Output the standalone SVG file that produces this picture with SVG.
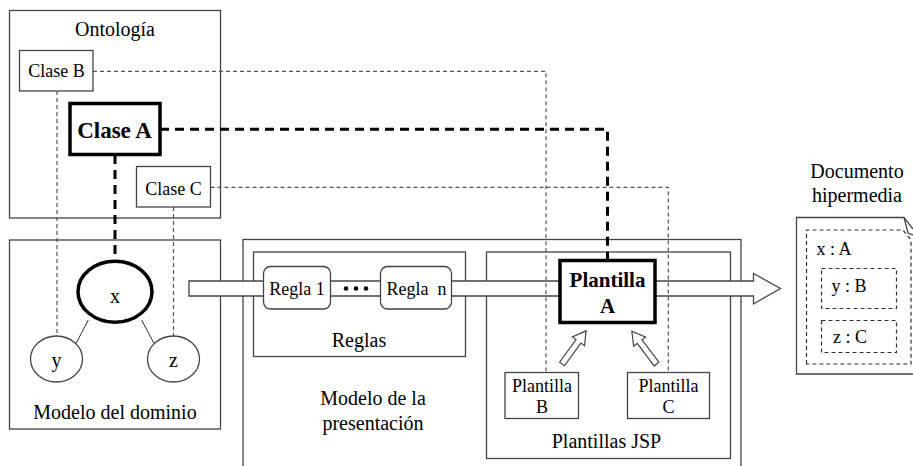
<svg xmlns="http://www.w3.org/2000/svg" width="913" height="466" viewBox="0 0 913 466">
<style>
text{font-family:'Liberation Serif','Times New Roman',serif;fill:#000}
.t20{font-size:20px}
.t18{font-size:18px}
.c{text-anchor:middle}
.box{fill:none;stroke:#444;stroke-width:1.3}
.wbox{fill:#fff;stroke:#444;stroke-width:1.3}
.thick{fill:#fff;stroke:#000;stroke-width:3.5}
.dash{fill:none;stroke:#555;stroke-width:1.2;stroke-dasharray:4 3}
.tdash{fill:none;stroke:#000;stroke-width:3;stroke-dasharray:9 6}
.ddash{fill:none;stroke:#333;stroke-width:1.2;stroke-dasharray:4 3}
.hollow{fill:#fff;stroke:#444;stroke-width:1.2}
</style>
<g id="ontologia">
<rect class="box" x="9.5" y="10.5" width="211" height="207.5"/>
<text class="t20 c" x="115" y="36">Ontología</text>
</g>
<g id="modelo-dominio">
<rect class="box" x="9.5" y="240" width="211" height="189"/>
<text class="t20 c" x="115" y="419">Modelo del dominio</text>
</g>
<g id="modelo-presentacion">
<rect class="box" x="243" y="239.5" width="498" height="240"/>
<text class="t20 c" x="373" y="405">Modelo de la</text>
<text class="t20 c" x="373" y="430">presentación</text>
</g>
<g id="reglas">
<rect class="box" x="253.5" y="252" width="212" height="104.5"/>
<text class="t20 c" x="359" y="346.5">Reglas</text>
</g>
<g id="plantillas-jsp">
<rect class="box" x="486.5" y="252" width="244" height="206.5"/>
<text class="t20 c" x="606.5" y="448">Plantillas JSP</text>
</g>
<g id="flujo">
<path class="wbox" d="M189,281 H753.5 V273.5 L780.5,288.5 L753.5,304 V296 H189 Z"/>
</g>
<g id="clase-b">
<rect class="wbox" x="19.5" y="50.5" width="73.5" height="40.5"/>
<text class="t18 c" x="56.5" y="77">Clase B</text>
</g>
<g id="clase-a">
<rect class="thick" x="70" y="103.5" width="90" height="51"/>
<text class="c" x="114.5" y="138" style="font-size:23px;font-weight:bold">Clase A</text>
</g>
<g id="clase-c">
<rect class="wbox" x="136.5" y="166.5" width="74" height="40.5"/>
<text class="t18 c" x="173.5" y="194.5">Clase C</text>
</g>
<g id="nodo-x">
<ellipse class="thick" cx="115" cy="291.7" rx="37" ry="30.5"/>
<text class="t20 c" x="115" y="303">x</text>
</g>
<g id="nodo-y">
<ellipse class="wbox" cx="56.5" cy="359" rx="26" ry="23"/>
<text class="t20 c" x="56.5" y="366.5">y</text>
</g>
<g id="nodo-z">
<ellipse class="wbox" cx="173.5" cy="359" rx="26" ry="23"/>
<text class="t20 c" x="173.5" y="366.5">z</text>
</g>
<g id="regla-1">
<rect class="wbox" x="263.5" y="266.5" width="67" height="42.5" rx="7"/>
<text class="t18 c" x="297" y="295">Regla 1</text>
</g>
<g id="puntos">
<circle cx="346" cy="288.5" r="2.3" fill="#000"/>
<circle cx="356" cy="288.5" r="2.3" fill="#000"/>
<circle cx="366" cy="288.5" r="2.3" fill="#000"/>
</g>
<g id="regla-n">
<rect class="wbox" x="380.5" y="266.5" width="71" height="42.5" rx="7"/>
<text class="t18 c" x="416.5" y="295" xml:space="preserve">Regla  n</text>
</g>
<g id="plantilla-a">
<rect class="thick" x="560" y="260.5" width="95" height="62"/>
<text class="c" x="607.5" y="287" style="font-size:21px;font-weight:bold">Plantilla</text>
<text class="c" x="607.5" y="313" style="font-size:21px;font-weight:bold">A</text>
</g>
<g id="plantilla-b">
<rect class="wbox" x="505" y="372.5" width="73.5" height="46"/>
<text class="t18 c" x="542" y="391.5">Plantilla</text>
<text class="t18 c" x="542" y="413">B</text>
</g>
<g id="plantilla-c">
<rect class="wbox" x="627.5" y="372.5" width="82" height="46"/>
<text class="t18 c" x="668.5" y="391.5">Plantilla</text>
<text class="t18 c" x="668.5" y="413">C</text>
</g>
<g id="documento">
<text class="t20 c" x="857" y="178">Documento</text>
<text class="t20 c" x="857" y="202">hipermedia</text>
<path class="box" d="M913,374 H796.5 V217.5 H904 L913,229"/>
<path class="box" d="M904,217.5 L908,233 L913,235"/>
<path class="ddash" d="M806.5,364 V230 H903 L911,240 V364 Z"/>
<text class="t18" x="816.5" y="255">x : A</text>
<rect class="ddash" x="821.5" y="268.5" width="75" height="40"/>
<text class="t18 c" x="849" y="291.5">y : B</text>
<rect class="ddash" x="821.5" y="320.5" width="75" height="32"/>
<text class="t18 c" x="850" y="343">z : C</text>
</g>
<g id="conectores">
<line x1="88.3" y1="320" x2="76" y2="343.5" stroke="#333" stroke-width="1"/>
<line x1="141.7" y1="320" x2="154" y2="343.5" stroke="#333" stroke-width="1"/>
<path class="dash" d="M93,71.3 H546 V372.5"/>
<path class="dash" d="M210.5,187.3 H668.3 V372.5"/>
<path class="tdash" d="M160,129.3 H607.5 V260.5"/>
<line class="dash" x1="57" y1="91" x2="57" y2="336"/>
<line class="dash" x1="173.5" y1="207" x2="173.5" y2="336"/>
<line class="tdash" x1="115" y1="155" x2="115" y2="261"/>
<polygon class="hollow" points="0,-3 28,-3 28,-7.5 41,0 28,7.5 28,3 0,3" transform="translate(562,364) rotate(-54)"/>
<polygon class="hollow" points="0,-3 28,-3 28,-7.5 41,0 28,7.5 28,3 0,3" transform="translate(656.5,364) rotate(-127)"/>
</g>
</svg>
